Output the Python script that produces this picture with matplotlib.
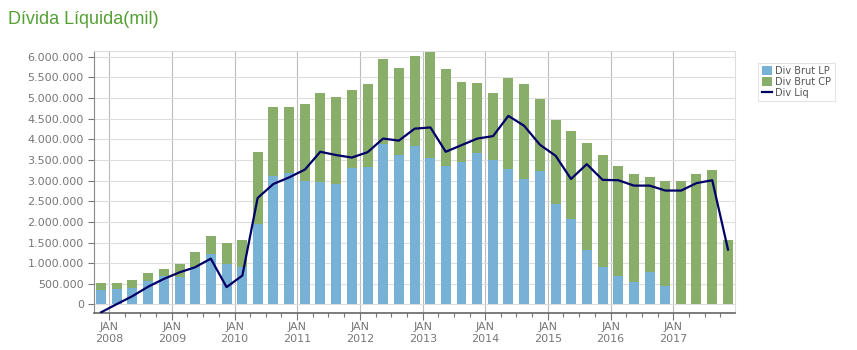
import matplotlib
matplotlib.use("Agg")
import matplotlib.pyplot as plt
import matplotlib.dates as mdates
import matplotlib.ticker as mticker
import pandas as pd

# quarterly values (mil), Nov 2007 .. Nov 2017
periods = pd.date_range("2007-11-01", periods=41, freq="3MS") + pd.Timedelta(days=14)

div_brut_lp = [355, 380, 410, 570, 680, 660, 900, 1220, 970, 900,
               1940, 3120, 3180, 3000, 2960, 2920, 3310, 3340, 3880, 3630,
               3850, 3560, 3360, 3440, 3670, 3500, 3280, 3040, 3240, 2440,
               2060, 1320, 910, 680, 550, 790, 440, 0, 0, 0, 0]
div_brut_cp = [155, 150, 190, 180, 190, 330, 380, 430, 530, 670,
               1760, 1670, 1610, 1860, 2170, 2110, 1890, 2010, 2060, 2100,
               2170, 2560, 2340, 1960, 1700, 1630, 2210, 2310, 1750, 2040,
               2150, 2600, 2720, 2680, 2600, 2310, 2540, 2980, 3170, 3270, 1550]
div_liq = [-190, 10, 200, 430, 620, 780, 900, 1110, 420, 700,
           2580, 2920, 3080, 3270, 3700, 3620, 3560, 3690, 4020, 3970,
           4260, 4290, 3700, 3860, 4020, 4080, 4570, 4330, 3870, 3600,
           3040, 3400, 3020, 3010, 2880, 2880, 2760, 2760, 2940, 3010, 1330]

lp = [v * 1000 for v in div_brut_lp]
cp = [v * 1000 for v in div_brut_cp]
liq = [v * 1000 for v in div_liq]

fig = plt.figure(figsize=(8.57, 3.5), dpi=100)
ax = fig.add_axes([0.110, 0.1066, 0.7477, 0.7486])

blue = "#78b1d6"
green = "#88ae69"
b1 = ax.bar(periods, lp, width=58, color=blue, label="Div Brut LP", zorder=2)
b2 = ax.bar(periods, cp, width=58, bottom=lp, color=green, label="Div Brut CP", zorder=2)
l1, = ax.plot(periods, liq, color="#000066", lw=1.6, label="Div Liq", zorder=3)

ax.set_xlim(pd.Timestamp("2007-10-06"), pd.Timestamp("2017-12-26"))
ax.set_ylim(-200000, 6150000)

ax.yaxis.set_major_locator(mticker.MultipleLocator(500000))
ax.yaxis.set_major_formatter(mticker.FuncFormatter(lambda v, p: f"{int(v):,}".replace(",", ".")))
ax.xaxis.set_major_locator(mdates.YearLocator())
ax.xaxis.set_major_formatter(mdates.DateFormatter("JAN\n%Y"))
ax.xaxis.set_minor_locator(mdates.MonthLocator(bymonth=(4, 7, 10)))

ax.grid(axis="y", color="#dddddd", lw=0.8, zorder=0)
ax.grid(axis="x", color="#bbbbbb", lw=0.8, zorder=0)
ax.set_axisbelow(True)

for s in ["top", "right"]:
    ax.spines[s].set_color("#dddddd")
ax.spines["left"].set_color("#888888")
ax.spines["bottom"].set_color("#666666")
ax.spines["bottom"].set_linewidth(1.2)

ax.tick_params(axis="y", labelsize=8, colors="#777777", length=4, width=0.8)
ax.tick_params(axis="x", which="major", labelsize=8, colors="#777777", length=5, width=0.8, pad=2)
ax.tick_params(axis="x", which="minor", length=3, width=0.8, colors="#777777")

fig.text(0.009, 0.945, "Dívida Líquida(mil)", fontsize=13, color="#55a035",
         family="Liberation Sans", va="center")

leg = ax.legend([b1, b2, l1], ["Div Brut LP", "Div Brut CP", "Div Liq"],
                loc="upper left", bbox_to_anchor=(0.879, 0.835), bbox_transform=fig.transFigure,
                fontsize=7, frameon=True, fancybox=False, handlelength=1.1, handleheight=1.1,
                handletextpad=0.3, borderpad=0.35, labelspacing=0.1, labelcolor="#555555")
leg.get_frame().set_edgecolor("#dddddd")
leg.get_frame().set_linewidth(0.8)

fig.savefig("out.png", dpi=100)
